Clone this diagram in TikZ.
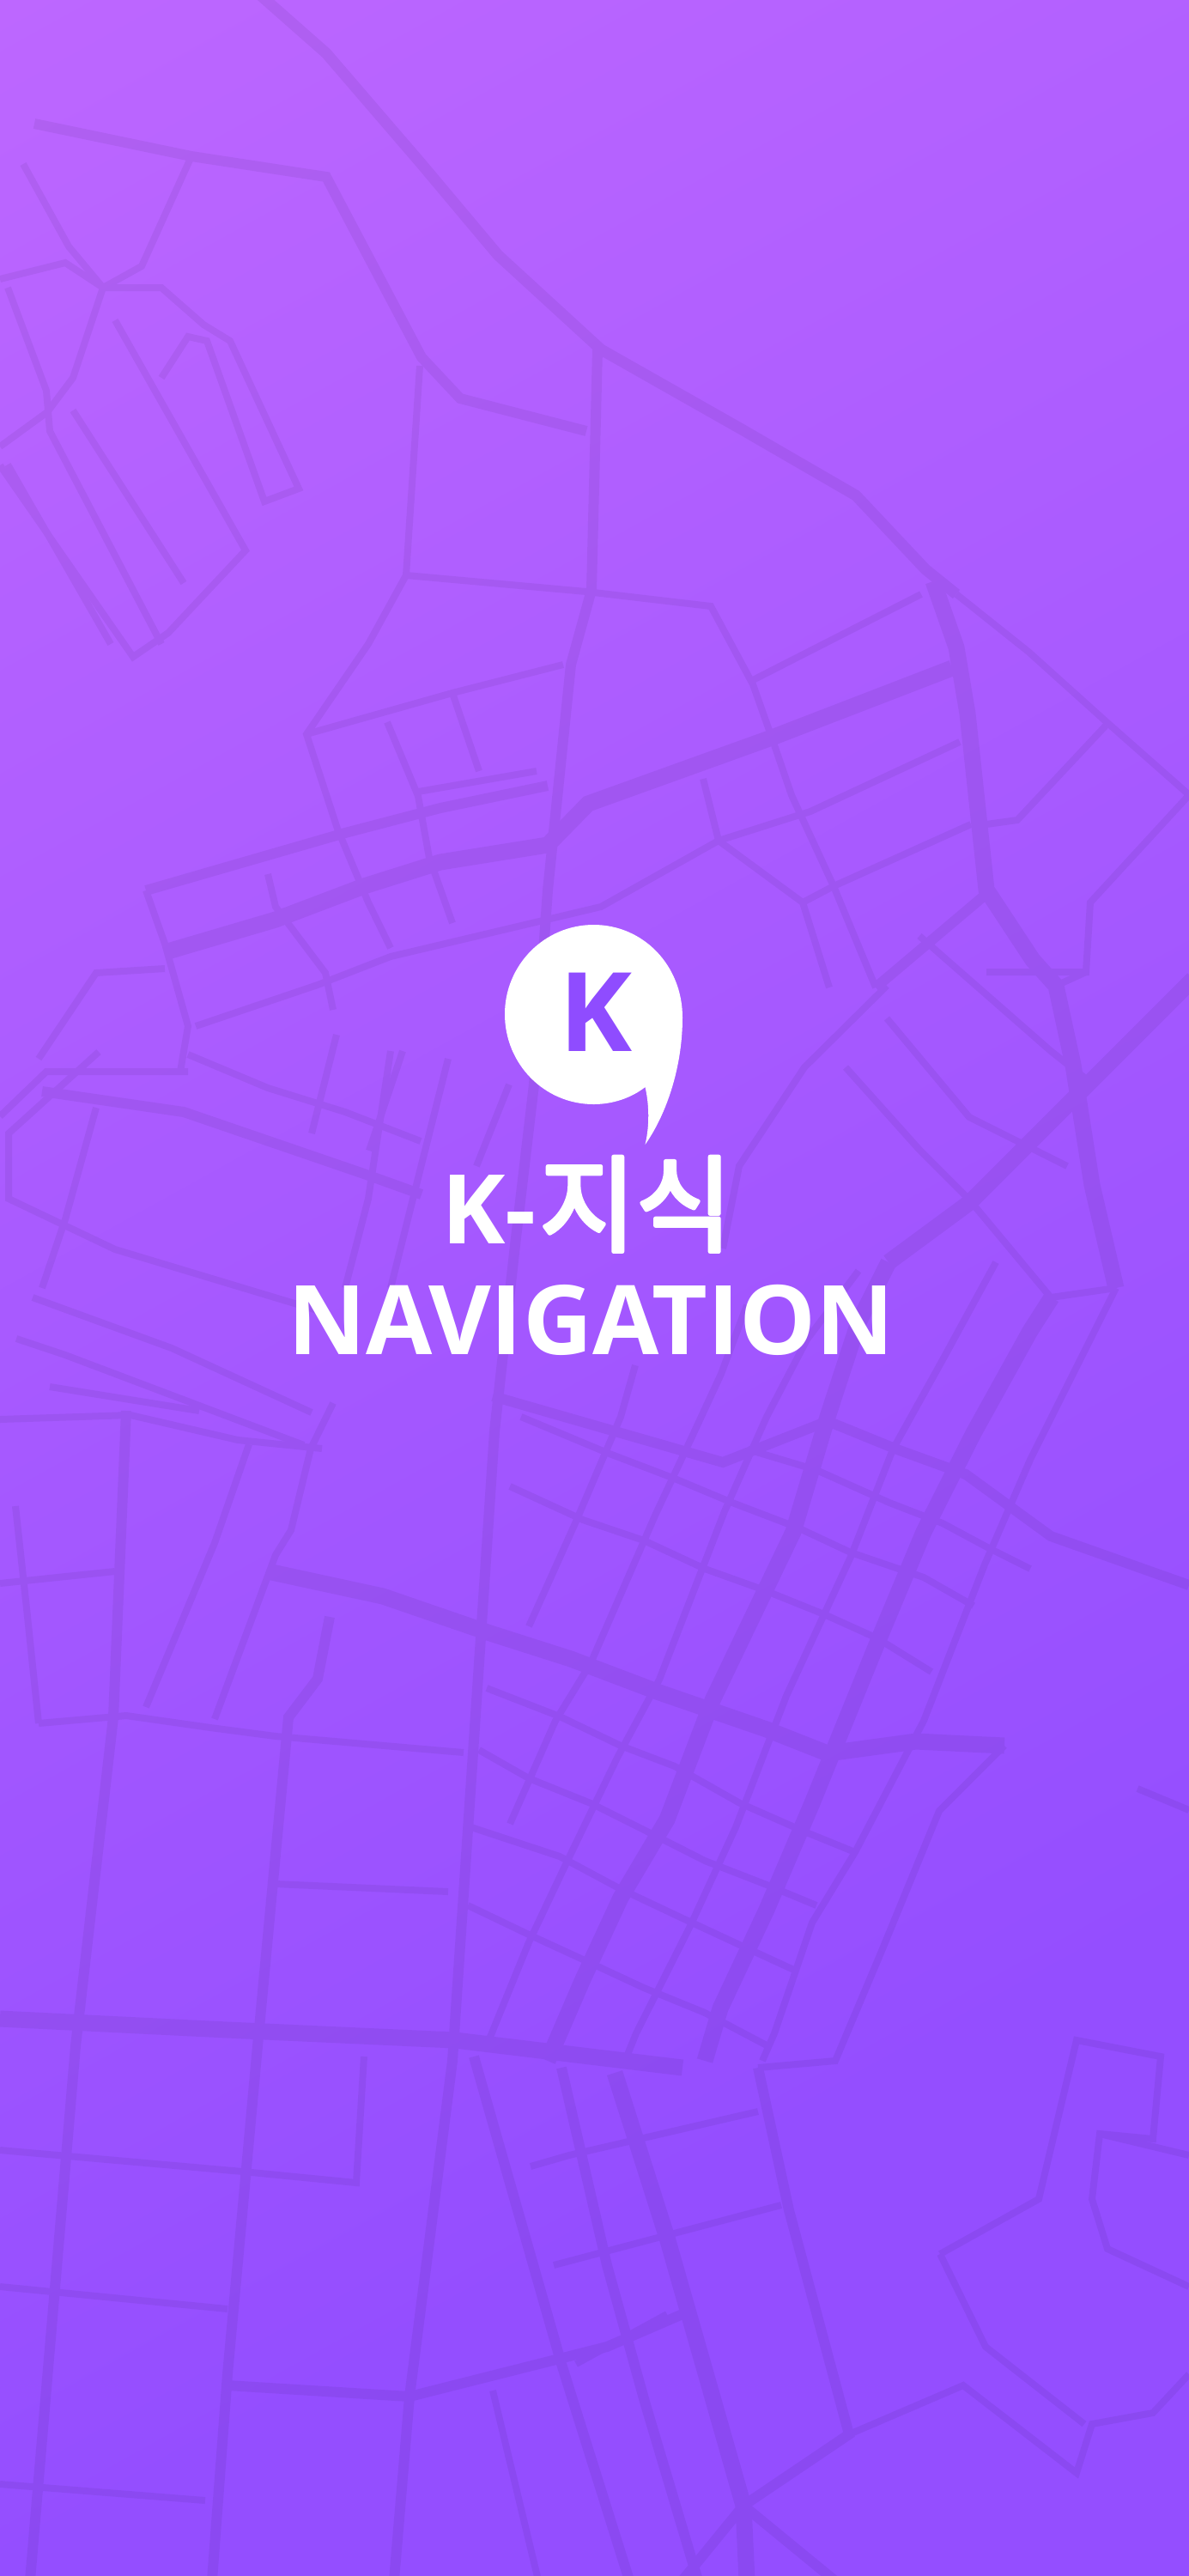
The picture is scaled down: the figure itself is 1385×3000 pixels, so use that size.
\documentclass[tikz,border=0pt]{standalone}
\usepackage{fontspec}
\setmainfont{Open Sans}
\newfontface\hangulfont{Noto Sans CJK KR}[FakeBold=4]
\definecolor{gradstart}{RGB}{189,103,255}
\definecolor{gradend}{RGB}{148,78,255}
\definecolor{roadcol}{RGB}{96,40,205}
\definecolor{logok}{RGB}{143,76,255}
\pgfdeclareverticalshading{bggrad}{100bp}{color(0bp)=(gradend); color(35.15bp)=(gradend); color(75bp)=(gradstart); color(100bp)=(gradstart)}
\tikzset{
  roadthin/.style={line width=4pt},
  roadmid/.style={line width=6pt},
  roadthick/.style={line width=9.5pt},
  wordmark/.style={text=white,inner sep=0pt,anchor=base,font=\bfseries},
}
\begin{document}
\begin{tikzpicture}[x=0.5pt,y=-0.5pt,line join=round,line cap=round]
\useasboundingbox (0,0) rectangle (1385,3000);
\clip (0,0) rectangle (1385,3000);
\begin{scope}[transform canvas={rotate around={29:(692.5,1500)}}]
\shade[shading=bggrad] (-2308,-148) rectangle (3692,3148);
\end{scope}
\begin{scope}[transparency group,opacity=0.055,draw=roadcol]
% --- top left
\draw[roadthick,line width=6.5pt] (304,-5) -- (380,62) -- (491,191) -- (580,297) -- (700,407) -- (864,500) -- (997,577) -- (1078,663) -- (1114,692);
\draw[roadthin] (1114,692) -- (1198,759) -- (1288,840) -- (1390,930);
\draw[roadmid] (40,144) -- (223,182) -- (380,206) -- (491,416) -- (536,464) -- (683,502);
\draw[roadthin] (489,426) -- (473,670) -- (429,750) -- (357,855) -- (393,965) -- (429,1051) -- (455,1104);
\draw[roadmid] (696,407) -- (689,687) -- (665,774) -- (638,1037) -- (622,1263);
\draw[roadmid] (622,1263) -- (600,1450) -- (576,1667) -- (558,1937) -- (527,2400) -- (477,2791) -- (459,3005);
\draw[roadthin] (473,670) -- (683,689) -- (828,706) -- (877,797) -- (899,859) -- (922,926) -- (971,1032) -- (1020,1150);
\draw[roadthin] (223,182) -- (165,310) -- (120,335) -- (85,440) -- (55,480) -- (0,520);
\draw[roadthin] (27,191) -- (80,287) -- (120,335) -- (188,335) -- (237,378) -- (268,397) -- (348,569) -- (308,584) -- (241,397) -- (219,392) -- (188,440);
\draw[roadthin] (0,325) -- (76,306) -- (120,335);
\draw[roadthin] (134,373) -- (286,641) -- (196,737) -- (155,765) -- (0,542);
\draw[roadthin] (9,335) -- (54,455) -- (58,502) -- (188,750);
\draw[roadthin] (85,478) -- (214,679);
\draw[roadthin] (9,541) -- (129,750);
% --- upper right
\draw[roadthin] (877,792) -- (1073,692);
\draw[roadthick] (192,1109) -- (321,1071) -- (424,1032) -- (513,1004) -- (638,984) -- (685,936) -- (899,859) -- (1109,778);
\draw[roadthin] (819,907) -- (837,979) -- (935,1051) -- (966,1150);
\draw[roadthin] (837,979) -- (944,945) -- (1118,864);
\draw[roadthin] (228,1195) -- (370,1147) -- (455,1114) -- (700,1056) -- (837,979);
\draw[roadthin] (935,1051) -- (971,1032) -- (1131,960);
\draw[roadthin] (1149,960) -- (1185,955) -- (1288,845);
\draw[roadthin] (1385,926) -- (1270,1051) -- (1265,1132) -- (1149,1132);
\draw[roadthick] (1087,677) -- (1114,754) -- (1127,831) -- (1149,1036) -- (1203,1118) -- (1230,1148) -- (1250,1240) -- (1272,1380) -- (1300,1500);
\draw[roadmid] (1149,1041) -- (1020,1150);
\draw[roadthin] (1265,1132) -- (1230,1148);
% --- left centre
\draw[roadthin] (357,855) -- (527,807) -- (656,774);
\draw[roadthin] (487,922) -- (625,898);
\draw[roadthin] (527,807) -- (558,898);
\draw[roadthin] (451,841) -- (487,927) -- (500,999) -- (527,1075);
\draw[roadmid] (170,1037) -- (402,970) -- (513,941) -- (638,915);
\draw[roadthin] (312,1018) -- (321,1056) -- (379,1133) -- (388,1176);
\draw[roadthin] (170,1037) -- (192,1099) -- (219,1195) -- (210,1248);
\draw[roadthin] (45,1233) -- (112,1133) -- (192,1128);
\draw[roadthin] (219,1228) -- (312,1267) -- (402,1295) -- (490,1329);
\draw[roadthin] (0,1300) -- (54,1248) -- (219,1248);
\draw[roadmid] (49,1271) -- (214,1295) -- (424,1367) -- (491,1391);
\draw[roadthin] (455,1224) -- (429,1396) -- (402,1500);
\draw[roadthin] (522,1233) -- (487,1372) -- (455,1500);
\draw[roadthin] (112,1290) -- (76,1420) -- (49,1500);
\draw[roadthin] (392,1205) -- (363,1320);
\draw[roadthin] (469,1224) -- (430,1340);
\draw[roadthin] (593,1263) -- (555,1358);
\draw[roadthin] (115,1225) -- (10,1320) -- (10,1396) -- (134,1455) -- (383,1530);
\draw[roadthin] (38,1511) -- (200,1570) -- (363,1645);
\draw[roadthin] (19,1559) -- (76,1578) -- (354,1683);
% --- lower left
\draw[roadthick] (312,1830) -- (446,1859) -- (571,1902) -- (665,1932) -- (768,1971) -- (893,2014) -- (964,2042) -- (1067,2028) -- (1170,2033);
\draw[roadthin] (0,1653) -- (152,1648) -- (277,1677) -- (375,1687);
\draw[roadthin] (58,1615) -- (232,1643);
\draw[roadmid] (147,1643) -- (132,2000) -- (88,2383) -- (35,3005);
\draw[roadmid] (384,1883) -- (370,1955) -- (336,2000) -- (300,2383) -- (265,2765) -- (247,3005);
\draw[roadthin] (290,1682) -- (250,1797) -- (170,1988);
\draw[roadthin] (388,1634) -- (362,1687) -- (339,1782) -- (321,1811) -- (250,2002);
\draw[roadthin] (0,1844) -- (134,1830);
\draw[roadthin] (18,1754) -- (31,1873) -- (45,2007);
\draw[roadthin] (45,2007) -- (147,1998) -- (245,2012) -- (321,2022) -- (540,2041);
\draw[roadthin] (321,2194) -- (522,2203);
\draw[roadthick] (0,2351) -- (265,2364) -- (530,2376) -- (795,2408);
\draw[roadthin] (0,2504) -- (283,2529) -- (415,2542) -- (424,2395);
\draw[roadthin] (0,2663) -- (265,2689);
\draw[roadthin] (0,2893) -- (239,2912);
\draw[roadmid] (265,2778) -- (477,2791) -- (707,2733) -- (795,2695);
% --- lower centre
\draw[roadmid] (552,2395) -- (654,2753) -- (733,3005);
\draw[roadmid] (654,2408) -- (707,2638) -- (751,2797) -- (813,3005);
\draw[roadthick] (716,2414) -- (777,2606) -- (866,2918) -- (870,3005);
\draw[roadthin] (574,2784) -- (627,3005);
\draw[roadmid] (883,2408) -- (919,2574) -- (989,2835) -- (866,2918) -- (795,3005);
\draw[roadmid] (866,2918) -- (972,3005);
\draw[roadthin] (989,2835) -- (1122,2778) -- (1254,2880) -- (1272,2823) -- (1343,2810) -- (1385,2765);
\draw[roadthin] (1095,2625) -- (1148,2733) -- (1263,2823);
\draw[roadthin] (1095,2625) -- (1210,2561) -- (1254,2376) -- (1352,2395) -- (1343,2491) -- (1281,2485) -- (1272,2561) -- (1290,2619) -- (1385,2663);
\draw[roadthin] (1281,2485) -- (1385,2510);
\draw[roadthin] (1325,2083) -- (1385,2108);
\draw[roadthin] (618,2523) -- (663,2510) -- (883,2459);
\draw[roadthin] (645,2638) -- (910,2568);
\draw[roadthin] (671,2753) -- (777,2695);
% --- grid: rising roads
\draw[roadthin] (740,1590) -- (723,1650) -- (670,1774) -- (616,1894);
\draw[roadthin] (870,1520) -- (840,1600) -- (808,1669) -- (763,1765) -- (688,1937) -- (647,2004) -- (594,2124);
\draw[roadthin] (1000,1480) -- (940,1560) -- (893,1650) -- (844,1760) -- (768,1956) -- (719,2047) -- (661,2167) -- (616,2262) -- (567,2382);
\draw[roadthick] (1035,1470) -- (1000,1540) -- (964,1650) -- (924,1784) -- (830,1980) -- (777,2119) -- (723,2210) -- (679,2305) -- (638,2400);
\draw[roadthin] (1160,1470) -- (1100,1580) -- (1040,1688) -- (991,1813) -- (916,1975) -- (857,2128) -- (804,2243) -- (741,2368) -- (728,2400);
\draw[roadthick] (1225,1511) -- (1200,1550) -- (1134,1669) -- (1076,1784) -- (1022,1913) -- (946,2100) -- (893,2224) -- (839,2339) -- (821,2400);
\draw[roadthin] (1300,1500) -- (1200,1700) -- (1147,1822) -- (1076,2004) -- (996,2157) -- (946,2239) -- (902,2368) -- (888,2400);
\draw[roadthin] (1170,2033) -- (1094,2109) -- (1027,2272) -- (973,2400) -- (883,2408);
% --- grid: falling roads
\draw[roadthin] (594,1731) -- (679,1770) -- (750,1794) -- (821,1827) -- (888,1851) -- (960,1880) -- (1022,1908) -- (1085,1947);
\draw[roadthin] (607,1650) -- (710,1693) -- (786,1722) -- (853,1750) -- (929,1779) -- (991,1808) -- (1076,1837) -- (1134,1870);
\draw[roadmid] (574,1626) -- (842,1703) -- (964,1655) -- (1045,1688) -- (1125,1717) -- (1224,1789) -- (1385,1846);
\draw[roadthin] (871,1688) -- (951,1712) -- (1036,1750) -- (1098,1774) -- (1152,1803) -- (1200,1827);
\draw[roadthin] (567,1966) -- (652,1999) -- (723,2033) -- (786,2057) -- (862,2100) -- (937,2133) -- (996,2157);
\draw[roadthin] (558,2038) -- (616,2071) -- (688,2100) -- (754,2133) -- (821,2167) -- (893,2195) -- (951,2219);
\draw[roadthin] (549,2128) -- (652,2162) -- (723,2200) -- (795,2234) -- (866,2267) -- (929,2296);
\draw[roadthin] (545,2219) -- (616,2253) -- (679,2282) -- (750,2315) -- (821,2344) -- (893,2382);
% --- right of the logo
\draw[roadthick] (1390,1140) -- (1290,1240) -- (1220,1310) -- (1130,1400) -- (1035,1470);
\draw[roadthin] (1033,1148) -- (937,1243) -- (861,1358) -- (842,1454);
\draw[roadthin] (1071,1090) -- (1224,1224) -- (1272,1262);
\draw[roadthin] (1033,1186) -- (1129,1301) -- (1243,1358);
\draw[roadthin] (985,1243) -- (1071,1339) -- (1129,1397) -- (1224,1511) -- (1300,1500);
\end{scope}
% --- logo
\fill[white] (751.5,1266) .. controls (735,1279) and (713,1286) .. (691.5,1286) .. controls (634,1286) and (588,1239) .. (588,1181) .. controls (588,1124) and (634,1077) .. (691.5,1077) .. controls (749,1077) and (795,1124) .. (795,1185) .. controls (795,1240) and (778,1295) .. (751.5,1333) .. controls (757,1310) and (756,1285) .. (751.5,1266) -- cycle;
\node[wordmark,text=logok] (logoletter) at (694,1224) {\fontsize{64}{70}\selectfont K};
\node[wordmark] (titlekr) at (683.5,1448) {\fontsize{56}{60}\selectfont K-\kern2pt{\hangulfont\fontsize{61}{60}\selectfont 지식}};
\node[wordmark] (titleen) at (688.5,1577) {\fontsize{56}{60}\selectfont NAVIGATION};
\end{tikzpicture}
\end{document}
